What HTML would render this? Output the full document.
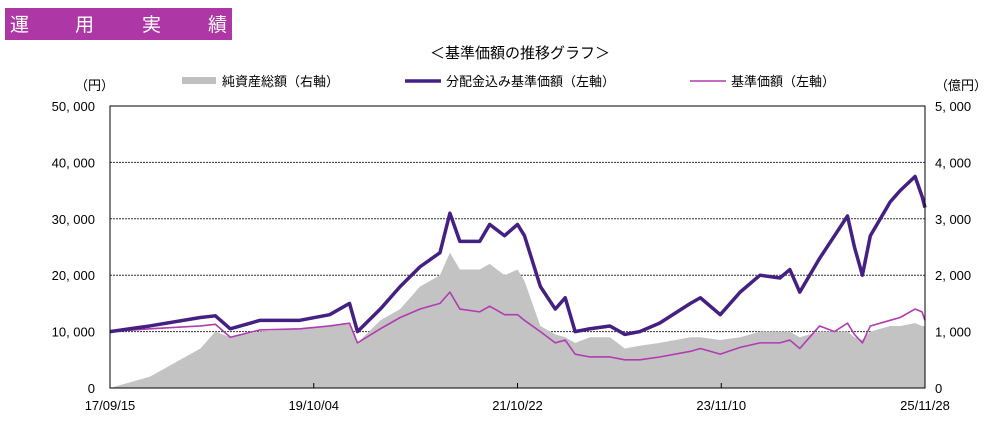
<!DOCTYPE html>
<html><head><meta charset="utf-8"><style>
body{margin:0;background:#fff;width:990px;height:423px;overflow:hidden;font-family:"Liberation Sans","Noto Sans CJK JP",sans-serif}
svg text{font-family:"Liberation Sans","Noto Sans CJK JP",sans-serif}
</style></head><body>
<svg width="990" height="423">
<rect x="5" y="8" width="227" height="32" fill="#ad37a5"/>
<text x="10" y="31" font-size="19" fill="#fff"><tspan x="10">運</tspan><tspan x="75">用</tspan><tspan x="142">実</tspan><tspan x="208">績</tspan></text>
<text x="520" y="58" font-size="15" text-anchor="middle">＜基準価額の推移グラフ＞</text>
<g font-size="13">
<rect x="182" y="77" width="34" height="7" fill="#c0c0c0"/>
<text x="222" y="86">純資産総額（右軸）</text>
<line x1="405" y1="81" x2="441" y2="81" stroke="#452083" stroke-width="3.5"/>
<text x="446" y="86">分配金込み基準価額（左軸）</text>
<line x1="690" y1="81" x2="726" y2="81" stroke="#b03cb0" stroke-width="1.5"/>
<text x="731" y="86">基準価額（左軸）</text>
</g>
<text x="75" y="90" font-size="13">（円）</text>
<text x="935" y="90" font-size="13">（億円）</text>
<g id="grid"></g><g id="marks"></g><g id="axes"></g>
</svg>
<script>
const dates=[2017.71,2018.11,2018.62,2018.77,2018.92,2019.22,2019.62,2019.92,2020.12,2020.2,2020.43,2020.63,2020.83,2021.03,2021.13,2021.23,2021.43,2021.53,2021.68,2021.81,2021.88,2022.04,2022.19,2022.29,2022.39,2022.54,2022.74,2022.89,2023.04,2023.24,2023.55,2023.65,2023.85,2024.05,2024.25,2024.45,2024.55,2024.65,2024.85,2025.0,2025.13,2025.2,2025.28,2025.36,2025.56,2025.66,2025.81,2025.88,2025.91];
const divPrice=[10000,11000,12500,12800,10500,12000,12000,13000,15000,10000,14000,18000,21500,24000,31000,26000,26000,29000,27000,29000,27000,18000,14000,16000,10000,10500,11000,9500,10000,11500,15000,16000,13000,17000,20000,19500,21000,17000,23000,27000,30500,25000,20000,27000,33000,35000,37500,34000,32000];
const basePrice=[10000,10500,11000,11300,9000,10300,10500,11000,11500,8000,10500,12500,14000,15000,17000,14000,13500,14500,13000,13000,12000,10000,8000,8500,6000,5500,5500,5000,5000,5500,6500,7000,6000,7200,8000,8000,8500,7000,11000,10000,11500,9500,8000,11000,12000,12500,14000,13500,12000];
const netAssets=[0,200,700,1000,900,1000,1050,1100,1150,800,1200,1400,1800,2000,2400,2100,2100,2200,2000,2100,1900,1100,950,900,800,900,900,700,750,800,900,900,850,900,1000,1000,1000,900,1000,1000,1000,900,850,1000,1100,1100,1150,1100,1100];
const leftTicks=[0,10000,20000,30000,40000,50000];
const rightTicks=[0,1000,2000,3000,4000,5000];
const xTickDates=[2017.71,2019.76,2021.81,2023.86,2025.91];
const xTickLabels=["17/09/15","19/10/04","21/10/22","23/11/10","25/11/28"];
const X0=110,X1=925,Y0=388,Y1=106;
const x=d=>X0+(d-2017.71)/(2025.91-2017.71)*(X1-X0);
const yL=v=>Y0-v/50000*(Y0-Y1);
const yR=v=>Y0-v/5000*(Y0-Y1);
const NS="http://www.w3.org/2000/svg";
function mk(t,a,p){const e=document.createElementNS(NS,t);for(const k in a)e.setAttribute(k,a[k]);p.appendChild(e);return e;}
const grid=document.getElementById('grid'),marks=document.getElementById('marks'),axes=document.getElementById('axes');
leftTicks.forEach((v,i)=>{
 if(v>0&&v<50000){const g=mk('line',{x1:X0,x2:X1,y1:yL(v),y2:yL(v),stroke:'#333','stroke-dasharray':'2,1'},grid);
 
 }
 const t=mk('text',{x:95,y:yL(v)+5,'font-size':13,'text-anchor':'end'},axes);t.textContent=v.toLocaleString('en-US').replace(',',', ');
 
 
});
rightTicks.forEach(v=>{
 const t=mk('text',{x:935,y:yR(v)+5,'font-size':13},axes);t.textContent=v.toLocaleString('en-US').replace(',',', ');
 
 
});
xTickDates.forEach((d,i)=>{
 const l=mk('line',{x1:x(d),x2:x(d),y1:Y0,y2:Y0-5,stroke:'#000'},axes);
 
 
 const t=mk('text',{x:x(d),y:410,'font-size':13,'text-anchor':'middle'},axes);t.textContent=xTickLabels[i];
 
 
});
let ap='M'+x(dates[0])+','+Y0;dates.forEach((d,i)=>ap+=' L'+x(d)+','+yR(netAssets[i]));ap+=' L'+x(dates[dates.length-1])+','+Y0+'Z';
const area=mk('path',{d:ap,fill:'#c3c3c3'},marks);


const pts=(arr)=>dates.map((d,i)=>x(d)+','+yL(arr[i])).join(' ');
const bp=mk('polyline',{points:pts(basePrice),fill:'none',stroke:'#b03cb0','stroke-width':1.6,'stroke-linejoin':'round'},marks);


const dp=mk('polyline',{points:pts(divPrice),fill:'none',stroke:'#452083','stroke-width':3.5,'stroke-linejoin':'round'},marks);


const fr=mk('rect',{x:X0,y:Y1,width:X1-X0,height:Y0-Y1,fill:'none',stroke:'#000','stroke-width':1},axes);


</script>
</body></html>
